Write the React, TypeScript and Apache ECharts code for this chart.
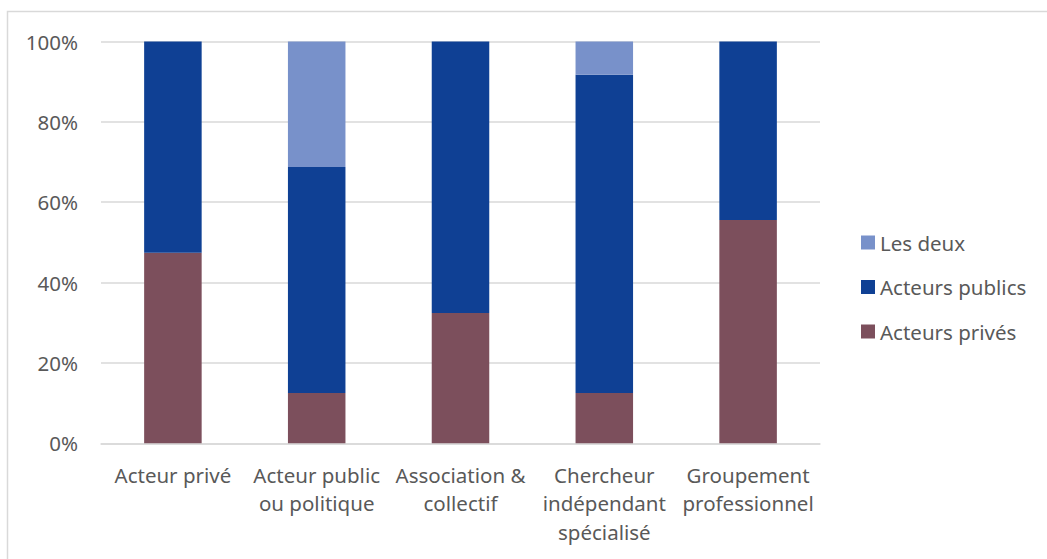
import React, { useEffect, useRef } from "react";
import * as echarts from "echarts";

const categories = [
  "Acteur privé",
  "Acteur public\nou politique",
  "Association &\ncollectif",
  "Chercheur\nindépendant\nspécialisé",
  "Groupement\nprofessionnel",
];
const acteursPrives = [47.4, 12.5, 32.4, 12.5, 55.6];
const acteursPublics = [52.6, 56.25, 67.6, 79.2, 44.4];
const lesDeux = [0, 31.25, 0, 8.3, 0];
const yTicks = [0, 20, 40, 60, 80, 100];

const FONT = "'Noto Sans', 'Open Sans', sans-serif";
const GRAY = "#595959";
const FS = 20.5;

export default function App() {
  const ref = useRef<HTMLDivElement>(null);
  useEffect(() => {
    if (!ref.current) return;
    const chart = echarts.init(ref.current, undefined, { renderer: "svg" });
    chart.setOption({
      animation: false,
      backgroundColor: "#ffffff",
      textStyle: { fontFamily: FONT },
      graphic: [
        {
          type: "rect",
          shape: { x: 7.5, y: 11.5, width: 1200, height: 700 },
          style: { fill: "none", stroke: "#D9D9D9", lineWidth: 1.5 },
          silent: true,
        },
      ],
      grid: { left: 101, right: 227, top: 41.5, bottom: 115.7 },
      legend: {
        orient: "vertical",
        left: 861,
        top: 232,
        padding: 0,
        itemWidth: 14,
        itemHeight: 14,
        itemGap: 23.5,
        icon: "rect",
        data: ["Les deux", "Acteurs publics", "Acteurs privés"],
        textStyle: { color: GRAY, fontSize: FS, fontFamily: FONT, lineHeight: 20 },
      },
      xAxis: {
        type: "category",
        data: categories,
        axisLine: { lineStyle: { color: "#D9D9D9", width: 1.5 } },
        axisTick: { show: false },
        axisLabel: {
          color: GRAY,
          fontSize: FS,
          lineHeight: 28.5,
          margin: 17,
          fontFamily: FONT,
          interval: 0,
        },
      },
      yAxis: {
        type: "value",
        min: 0,
        max: 100,
        interval: 20,
        axisLine: { show: false },
        axisTick: { show: false },
        splitLine: { lineStyle: { color: "#D9D9D9", width: 1.5 } },
        axisLabel: {
          color: GRAY,
          fontSize: FS,
          margin: 23,
          fontFamily: FONT,
          formatter: (v: number) => (yTicks.includes(v) ? v + "%" : ""),
        },
      },
      series: [
        {
          name: "Acteurs privés",
          type: "bar",
          stack: "total",
          barWidth: "40%",
          data: acteursPrives,
          itemStyle: { color: "#7C4F5C" },
        },
        {
          name: "Acteurs publics",
          type: "bar",
          stack: "total",
          barWidth: "40%",
          data: acteursPublics,
          itemStyle: { color: "#0F4094" },
        },
        {
          name: "Les deux",
          type: "bar",
          stack: "total",
          barWidth: "40%",
          data: lesDeux,
          itemStyle: { color: "#7891CA" },
        },
      ],
    });
    return () => chart.dispose();
  }, []);
  return (
    <div
      ref={ref}
      style={{ position: "fixed", left: 0, top: 0, width: 1047, height: 559 }}
    />
  );
}
